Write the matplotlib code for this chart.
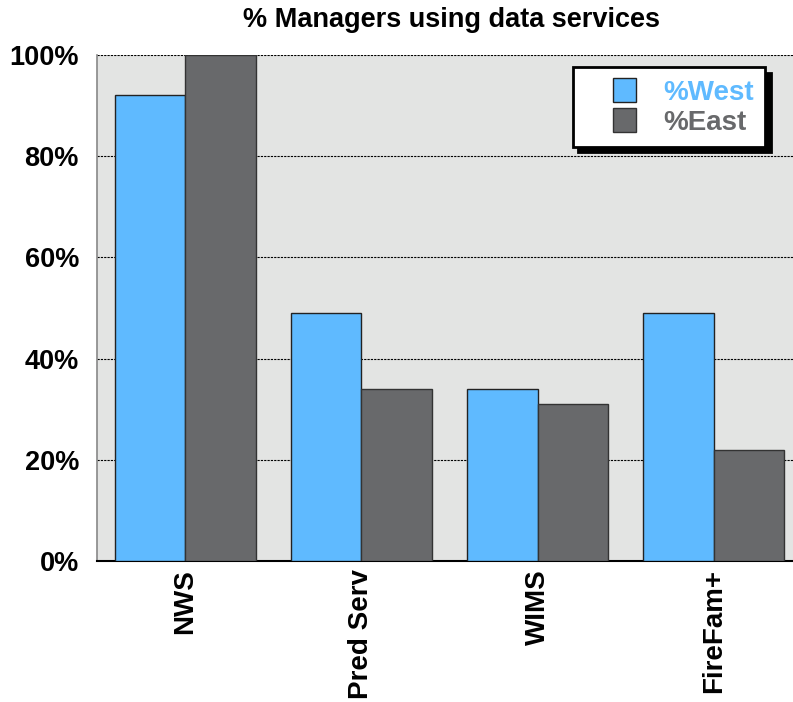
import numpy as np
import matplotlib.pyplot as plt
from matplotlib.ticker import FuncFormatter
from matplotlib.patches import Rectangle
from matplotlib.container import BarContainer
from matplotlib.legend_handler import HandlerPatch

plt.rcParams['font.family'] = ['Liberation Sans', 'DejaVu Sans']
plt.rcParams['font.weight'] = 'bold'

# Data.
categories = ['NWS', 'Pred Serv', 'WIMS', 'FireFam+']
west = [92, 49, 34, 49]
east = [100, 34, 31, 22]
series_labels = ['%West', '%East']

blue = '#5fbaff'
grey = '#68696b'


def square_right(legend, orig_handle, xdescent, ydescent, width, height, fontsize):
    # square swatch sitting at the right end of the handle area
    side = height
    return Rectangle((width - side - xdescent, -ydescent), side, side)


def from_first_bar(tgt, src):
    tgt.update_from(src.get_children()[0])


fig = plt.figure(figsize=(7.93, 7.02), dpi=100)
ax = fig.add_axes([0.1223, 0.2009, 0.8777, 0.7208])
ax.set_facecolor('#e3e4e3')

x = np.arange(len(categories))
width = 0.4
ax.bar(x - width / 2, west, width, color=blue, edgecolor='#222222',
       linewidth=1, label=series_labels[0], zorder=3)
ax.bar(x + width / 2, east, width, color=grey, edgecolor='#333333',
       linewidth=1, label=series_labels[1], zorder=3)

ax.set_xlim(-0.5, 3.45)
ax.set_ylim(0, 100)
ax.set_yticks(np.arange(0, 101, 20))
ax.yaxis.set_major_formatter(FuncFormatter(lambda v, p: '%d%%' % v))
ax.set_xticks(x)
ax.set_xticklabels(categories, rotation=90, fontsize=20, fontweight='bold')
ax.tick_params(axis='y', length=0, pad=13, labelsize=19.5)
ax.tick_params(axis='x', length=0, pad=6)
for lbl in ax.get_yticklabels():
    lbl.set_fontweight('bold')

ax.yaxis.grid(True, color='black', linestyle=(0, (2, 1)), linewidth=0.8, zorder=1)
ax.set_axisbelow(True)

ax.spines['top'].set_visible(False)
ax.spines['right'].set_visible(False)
ax.spines['left'].set_color('#888888')
ax.spines['left'].set_linewidth(1.2)
ax.spines['bottom'].set_color('black')
ax.spines['bottom'].set_linewidth(1.5)

ax.set_title('% Managers using data services', fontsize=19.5, fontweight='bold',
             pad=20, x=0.509)

handler = HandlerPatch(patch_func=square_right, update_func=from_first_bar)
leg = ax.legend(loc='upper right', bbox_to_anchor=(0.96, 0.976), borderaxespad=0,
                fancybox=False, shadow={'color': 'black', 'alpha': 1, 'ox': 4, 'oy': -4},
                framealpha=1, edgecolor='black',
                handlelength=1.9, handleheight=0.93, handletextpad=0.97,
                labelspacing=0.1, borderpad=0.4,
                handler_map={BarContainer: handler},
                labelcolor=[blue, grey], prop={'weight': 'bold', 'size': 20})
leg.get_frame().set_linewidth(2)
leg.set_zorder(5)

fig.savefig('out.png', dpi=100)
